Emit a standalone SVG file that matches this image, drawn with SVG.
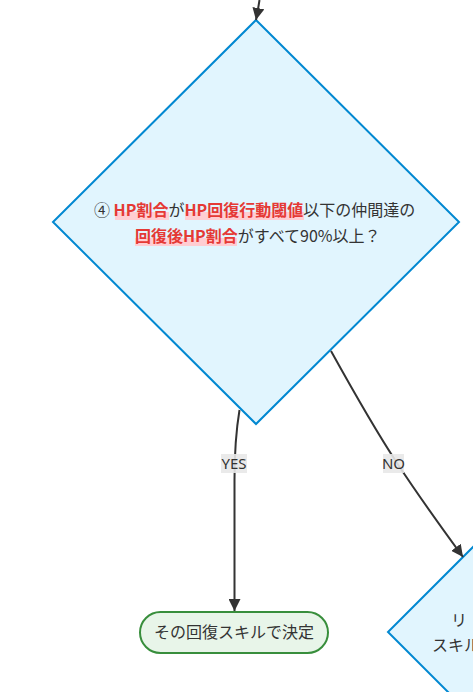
<svg xmlns="http://www.w3.org/2000/svg" width="473" height="692" viewBox="0 0 473 692">
<style>
.dia{fill:#e1f5fe;stroke:#0288d1;stroke-width:2}
.term{fill:#e8f5e9;stroke:#388e3c;stroke-width:2}
.t{font-family:"Noto Sans CJK JP","Noto Sans",sans-serif;font-size:16px;fill:#333}
.hl{fill:#e53935;font-weight:bold}
.mark{fill:#ffcdd2}
.edge{fill:none;stroke:#333;stroke-width:2}
.lblbg{fill:#e8e8e8;opacity:0.9}
.lbl{font-family:"Noto Sans","Noto Sans CJK JP",sans-serif;font-size:15px;fill:#333;text-anchor:middle}
</style>
<defs>
<marker id="arr" viewBox="0 0 10 10" refX="10" refY="5" markerUnits="userSpaceOnUse" markerWidth="12" markerHeight="12" orient="auto">
<path d="M0,0 L10,5 L0,10 z" fill="#333"/>
</marker>
</defs>
<g id="node-q4">
<polygon class="dia" points="256,20 459,222 256,424 53,222"/>
<rect class="mark" x="115" y="212" width="54" height="8"/>
<rect class="mark" x="185" y="212" width="119" height="8"/>
<rect class="mark" x="135" y="238" width="102" height="8"/>
<text class="t" x="94" y="216">④ <tspan class="hl">HP割合</tspan>が<tspan class="hl">HP回復行動閾値</tspan>以下の仲間達の</text>
<text class="t" x="135" y="242"><tspan class="hl">回復後HP割合</tspan>がすべて90%以上？</text>
</g>
<g id="node-decide">
<rect class="term" x="140" y="612" width="188" height="41" rx="20.5"/>
<text class="t" x="234" y="638" text-anchor="middle">その回復スキルで決定</text>
</g>
<g id="node-next">
<polygon class="dia" points="518,502 648,632 518,762 388,632"/>
<text class="t" x="451" y="626">リ</text>
<text class="t" x="432" y="651">スキル</text>
</g>
<g id="connectors">
<path class="edge" d="M259.5,0 Q258,10 256,20" marker-end="url(#arr)"/>
<path class="edge" d="M239.5,410 Q234.5,440 234.5,480 L234.5,611" marker-end="url(#arr)"/>
<path class="edge" d="M331,351 Q372,425 397,463 T463,557" marker-end="url(#arr)"/>
<rect class="lblbg" x="221" y="454" width="26" height="19"/>
<text class="lbl" x="234" y="469">YES</text>
<rect class="lblbg" x="383" y="454" width="21" height="19"/>
<text class="lbl" x="393.5" y="469">NO</text>
</g>
</svg>
